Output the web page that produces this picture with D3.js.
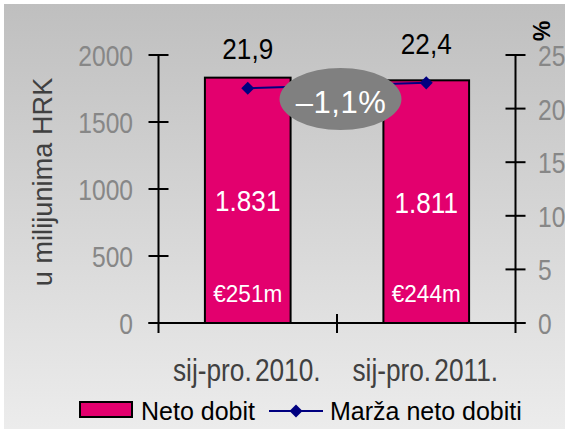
<!DOCTYPE html>
<html>
<head>
<meta charset="utf-8">
<script src="https://cdn.jsdelivr.net/npm/d3@7"></script>
<style>
  body { margin: 0; background: #fff; }
  svg { display: block; }
</style>
</head>
<body>
<div id="chart"></div>
<script>
// data
const categories = ['sij-pro. 2010.', 'sij-pro. 2011.'];
const netoDobit = [1831, 1811];
const netoDobitLabels = ['1.831', '1.811'];
const euroLabels = ['€251m', '€244m'];
const marza = [21.9, 22.4];
const marzaLabels = ['21,9', '22,4'];
const leftTicks = [0, 500, 1000, 1500, 2000];
const rightTicks = [0, 5, 10, 15, 20, 25];
const changeLabel = '\u20131,1%';

const width = 565, height = 429;
const font = '"Liberation Sans", Arial, sans-serif';

const svg = d3.select('#chart').append('svg')
  .attr('width', width)
  .attr('height', height);

// background gradient
const grad = svg.append('defs').append('linearGradient')
  .attr('id', 'bg').attr('x1', 0).attr('y1', 0).attr('x2', 0).attr('y2', 1);
grad.append('stop').attr('offset', '0%').attr('stop-color', '#bfbfbf');
grad.append('stop').attr('offset', '100%').attr('stop-color', '#ececec');

svg.append('rect')
  .attr('x', 4).attr('y', 4)
  .attr('width', width - 4).attr('height', height - 4)
  .style('fill', 'url(#bg)');

// no narrow font installed, so squeeze the regular one horizontally
function squeeze(sel, sx) {
  return sel.attr('transform', function () {
    const px = +this.getAttribute('data-x'), py = +this.getAttribute('data-y');
    return `translate(${px},${py}) scale(${sx},1)`;
  });
}

// scales
const x = d3.scaleBand()
  .domain(categories)
  .range([158.5, 515.5])
  .paddingInner(0.52)
  .paddingOuter(0.26);

const yLeft = d3.scaleLinear().domain([0, 2000]).range([323, 55]);
const yRight = d3.scaleLinear().domain([0, 25]).range([323, 55]);

const x0 = x.range()[0], x1 = x.range()[1];
const y0 = yLeft(0);
const cx = d => x(d) + x.bandwidth() / 2;

// bars
svg.selectAll('.bar')
  .data(netoDobit)
  .enter().append('rect')
  .attr('class', 'bar')
  .attr('x', (d, i) => x(categories[i]))
  .attr('y', d => yLeft(d))
  .attr('width', x.bandwidth())
  .attr('height', d => y0 - yLeft(d))
  .style('fill', '#e3006e')
  .style('stroke', '#000')
  .style('stroke-width', 2);

// axes lines
const axisG = svg.append('g').style('stroke', '#000').style('stroke-width', 2);
axisG.append('line').attr('x1', x0).attr('x2', x0).attr('y1', yLeft(2000)).attr('y2', y0 + 10);
axisG.append('line').attr('x1', x1).attr('x2', x1).attr('y1', yRight(25)).attr('y2', y0 + 10);
axisG.append('line').attr('x1', x0 - 10).attr('x2', x1 + 10).attr('y1', y0).attr('y2', y0);

axisG.selectAll('.lt').data(leftTicks).enter().append('line')
  .attr('x1', x0 - 10).attr('x2', x0 + 10)
  .attr('y1', d => yLeft(d)).attr('y2', d => yLeft(d));
axisG.selectAll('.rt').data(rightTicks).enter().append('line')
  .attr('x1', x1 - 10).attr('x2', x1 + 10)
  .attr('y1', d => yRight(d)).attr('y2', d => yRight(d));

// category boundary tick in the middle
const mid = (x(categories[0]) + x(categories[1]) + x.bandwidth()) / 2;
axisG.append('line').attr('x1', mid).attr('x2', mid).attr('y1', y0 - 9).attr('y2', y0 + 10);

// tick labels
svg.selectAll('.ltl').data(leftTicks).enter().append('text')
  .attr('data-x', 133).attr('data-y', d => yLeft(d) + 11)
  .attr('text-anchor', 'end')
  .style('font-family', font).style('font-size', '30px').style('fill', '#878787')
  .text(d => d)
  .call(squeeze, 0.82);

svg.selectAll('.rtl').data(rightTicks).enter().append('text')
  .attr('data-x', 538).attr('data-y', d => yRight(d) + 11)
  .style('font-family', font).style('font-size', '30px').style('fill', '#878787')
  .text(d => d)
  .call(squeeze, 0.82);

// y title
svg.append('text')
  .attr('transform', 'translate(52,182) rotate(-90)')
  .attr('text-anchor', 'middle')
  .style('font-family', font).style('font-size', '27px').style('fill', '#404040')
  .style('letter-spacing', '0.1px')
  .text('u milijunima HRK');

// % title
svg.append('text')
  .attr('transform', 'translate(533,31) rotate(90)')
  .attr('text-anchor', 'middle')
  .style('font-family', font).style('font-size', '23px').style('font-weight', 'bold').style('fill', '#000')
  .text('%');

// category labels
svg.selectAll('.cat').data(categories).enter().append('text')
  .attr('data-x', d => cx(d) - 1).attr('data-y', 381)
  .attr('text-anchor', 'middle')
  .style('font-family', font).style('font-size', '32px').style('fill', '#404040')
  .style('word-spacing', '-5px')
  .text(d => d)
  .call(squeeze, 0.82);

// values inside bars
svg.selectAll('.val').data(netoDobitLabels).enter().append('text')
  .attr('data-x', (d, i) => cx(categories[i])).attr('data-y', (d, i) => yLeft(netoDobit[i] / 2) + 11)
  .attr('text-anchor', 'middle')
  .style('font-family', font).style('font-size', '30px').style('fill', '#fff')
  .text(d => d)
  .call(squeeze, 0.87);

svg.selectAll('.eur').data(euroLabels).enter().append('text')
  .attr('data-x', (d, i) => cx(categories[i])).attr('data-y', 302)
  .attr('text-anchor', 'middle')
  .style('font-family', font).style('font-size', '23px').style('fill', '#fff')
  .text(d => d)
  .call(squeeze, 0.98);

// margin line
const line = d3.line()
  .x((d, i) => cx(categories[i]))
  .y(d => yRight(d));

svg.append('path')
  .datum(marza)
  .attr('d', line)
  .style('fill', 'none')
  .style('stroke', '#000080')
  .style('stroke-width', 2);

const diamond = d3.symbol().type(d3.symbolSquare).size(85);
svg.selectAll('.pt').data(marza).enter().append('path')
  .attr('d', diamond)
  .attr('transform', (d, i) => `translate(${cx(categories[i])},${yRight(d)}) rotate(45)`)
  .style('fill', '#000080');

svg.selectAll('.ml').data(marzaLabels).enter().append('text')
  .attr('data-x', (d, i) => cx(categories[i])).attr('data-y', (d, i) => yRight(marza[i]) - 29)
  .attr('text-anchor', 'middle')
  .style('font-family', font).style('font-size', '30px').style('fill', '#000')
  .text(d => d)
  .call(squeeze, 0.87);

// change bubble
svg.append('ellipse')
  .attr('cx', mid + 3.5).attr('cy', 99)
  .attr('rx', 61).attr('ry', 31)
  .style('fill', '#808080');

svg.append('text')
  .attr('x', mid + 4).attr('y', 113)
  .attr('text-anchor', 'middle')
  .style('font-family', font).style('font-size', '31px').style('fill', '#fff')
  .style('letter-spacing', '0.5px')
  .text(changeLabel);

// legend
const leg = svg.append('g');
leg.append('rect')
  .attr('x', 80).attr('y', 402).attr('width', 52).attr('height', 15)
  .style('fill', '#e3006e').style('stroke', '#000').style('stroke-width', 2);
leg.append('text')
  .attr('x', 141).attr('y', 420)
  .style('font-family', font).style('font-size', '25px').style('fill', '#000')
  .text('Neto dobit');
leg.append('line')
  .attr('x1', 269).attr('x2', 323).attr('y1', 411).attr('y2', 411)
  .style('stroke', '#000080').style('stroke-width', 2);
leg.append('path')
  .attr('d', diamond)
  .attr('transform', 'translate(296,411) rotate(45)')
  .style('fill', '#000080');
leg.append('text')
  .attr('x', 330).attr('y', 420)
  .style('font-family', font).style('font-size', '25px').style('fill', '#000')
  .text('Marža neto dobiti');
</script>
</body>
</html>
